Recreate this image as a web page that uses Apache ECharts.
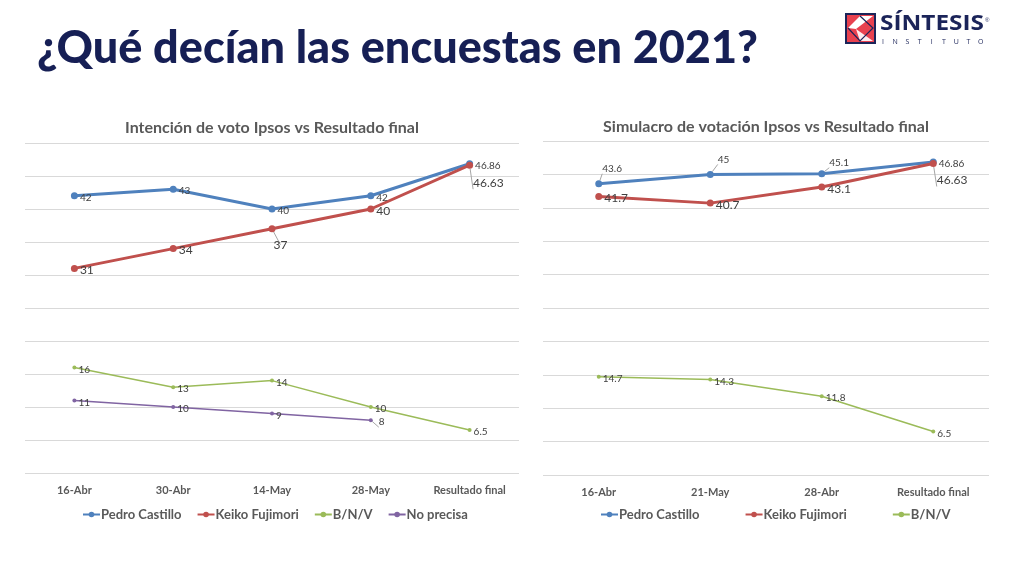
<!DOCTYPE html>
<html>
<head>
<meta charset="utf-8">
<script src="https://cdn.jsdelivr.net/npm/echarts@6/dist/echarts.min.js"></script>
<style>
  html, body { margin: 0; padding: 0; background: #fff; }
  #chart { width: 1024px; height: 569px; }
</style>
</head>
<body>
<div id="chart"></div>
<script>
// datos
const fechasIntencion = ["16-Abr", "30-Abr", "14-May", "28-May", "Resultado final"];
const castilloIntencion = [42, 43, 40, 42, 46.86];
const fujimoriIntencion = [31, 34, 37, 40, 46.63];
const bnvIntencion = [16, 13, 14, 10, 6.5];
const noPrecisa = [11, 10, 9, 8, null];

const fechasSimulacro = ["16-Abr", "21-May", "28-Abr", "Resultado final"];
const castilloSimulacro = [43.6, 45, 45.1, 46.86];
const fujimoriSimulacro = [41.7, 40.7, 43.1, 46.63];
const bnvSimulacro = [14.7, 14.3, 11.8, 6.5];

const AZUL = "#4F81BD";
const ROJO = "#C0504D";
const VERDE = "#9BBB59";
const MORADO = "#8064A2";
const GRIS = "#595959";
const NAVY = "#1B2459";
const FUENTE = "Lato, 'Open Sans', sans-serif";

const chart = echarts.init(document.getElementById("chart"));

// etiquetas con linea guia: { indice: [dx, dy] }
function conGuia(valores, movidas) {
  return valores.map((v, i) => {
    if (!movidas[i]) return v;
    return { value: v, label: { position: "right", offset: movidas[i] }, labelLine: { show: true } };
  });
}

function serie(nombre, datos, color, grueso, idx, fontSize) {
  return {
    name: nombre,
    type: "line",
    xAxisIndex: idx,
    yAxisIndex: idx,
    data: datos,
    color: color,
    symbol: "circle",
    symbolSize: grueso ? 7 : 4,
    lineStyle: { width: grueso ? 3 : 1.5, color: color },
    itemStyle: { color: color },
    connectNulls: false,
    label: {
      show: true,
      position: "right",
      distance: 2,
      offset: [0, 2],
      color: "#404040",
      fontFamily: FUENTE,
      fontSize: fontSize || 10
    },
    labelLine: { show: false, lineStyle: { color: "#A6A6A6", width: 1 } },
    emphasis: { disabled: true },
    animation: false
  };
}

const ejeX = (cats, gi) => ({
  type: "category",
  gridIndex: gi,
  data: cats,
  boundaryGap: true,
  axisLine: { show: false },
  axisTick: { show: false },
  axisLabel: { color: GRIS, fontFamily: FUENTE, fontWeight: "bold", fontSize: 11, margin: 12 }
});

const ejeY = (gi) => ({
  type: "value",
  gridIndex: gi,
  min: 0,
  max: 50,
  interval: 5,
  axisLabel: { show: false },
  axisLine: { show: false },
  axisTick: { show: false },
  splitLine: { lineStyle: { color: "#D9D9D9", width: 1 } }
});

const textoLeyenda = { color: GRIS, fontFamily: FUENTE, fontWeight: "bold", fontSize: 13, padding: [0, 0, 0, -4] };

// letras del logo, separadas a mano
const letrasInstituto = "INSTITUTO".split("").map((c, i) => ({
  type: "text", x: 37 + i * 12.2, y: 24,
  style: { text: c, fill: NAVY, font: "7px 'Open Sans', sans-serif", align: "center" }
}));

chart.setOption({
  backgroundColor: "#fff",
  title: [
    {
      text: "¿Qué decían las encuestas en 2021?",
      left: 32, top: 21,
      textStyle: { color: "#161F55", fontFamily: FUENTE, fontWeight: 900, fontSize: 45 }
    },
    {
      text: "Intención de voto Ipsos vs Resultado final",
      left: 267, top: 115, textAlign: "center",
      textStyle: { color: GRIS, fontFamily: FUENTE, fontWeight: "bold", fontSize: 16 }
    },
    {
      text: "Simulacro de votación Ipsos vs Resultado final",
      left: 761, top: 114, textAlign: "center",
      textStyle: { color: GRIS, fontFamily: FUENTE, fontWeight: "bold", fontSize: 16 }
    }
  ],
  legend: [
    {
      left: 77, top: 503, itemWidth: 17, itemHeight: 7, itemGap: 15,
      data: ["Pedro Castillo", "Keiko Fujimori", "B/N/V", "No precisa"],
      textStyle: textoLeyenda,
      selectedMode: false
    },
    {
      left: 595, top: 503, itemWidth: 17, itemHeight: 7, itemGap: 45,
      data: ["Pedro Castillo", "Keiko Fujimori", "B/N/V"],
      textStyle: textoLeyenda,
      selectedMode: false
    }
  ],
  grid: [
    { left: 25, top: 143, width: 494, height: 330 },
    { left: 543, top: 141, width: 446, height: 334 }
  ],
  xAxis: [ejeX(fechasIntencion, 0), ejeX(fechasSimulacro, 1)],
  yAxis: [ejeY(0), ejeY(1)],
  series: [
    serie("Pedro Castillo", castilloIntencion, AZUL, true, 0),
    serie("Keiko Fujimori", conGuia(fujimoriIntencion, { 2: [-4, 16], 4: [-2, 18] }), ROJO, true, 0, 12),
    serie("B/N/V", bnvIntencion, VERDE, false, 0),
    serie("No precisa", conGuia(noPrecisa, { 3: [4, 2] }), MORADO, false, 0),
    serie("Pedro Castillo", conGuia(castilloSimulacro, { 0: [-2, -15], 1: [2, -15], 2: [2, -11] }), AZUL, true, 1),
    serie("Keiko Fujimori", conGuia(fujimoriSimulacro, { 3: [-2, 17] }), ROJO, true, 1, 12),
    serie("B/N/V", bnvSimulacro, VERDE, false, 1)
  ],
  graphic: [
    {
      type: "group",
      left: 845, top: 13,
      children: [
        { type: "rect", shape: { x: 0, y: 0, width: 29, height: 29 }, style: { fill: "#E8414F", stroke: NAVY, lineWidth: 2 } },
        { type: "polygon", shape: { points: [[2, 14], [14, 2], [27, 2], [10, 15]] }, style: { fill: "#fff" } },
        { type: "polygon", shape: { points: [[10, 15], [27, 27], [14, 27]] }, style: { fill: "#fff", opacity: 0.9 } },
        { type: "polyline", shape: { points: [[2, 14], [14, 27], [27, 14], [14, 2]] }, style: { stroke: NAVY, lineWidth: 1.2, fill: null } },
        { type: "text", x: 34, y: 0, scaleX: 1.16, style: { text: "SÍNTESIS", fill: NAVY, font: "bold 21px 'Open Sans', sans-serif" } },
        { type: "text", x: 139, y: 3, style: { text: "®", fill: NAVY, font: "6px sans-serif" } }
      ].concat(letrasInstituto)
    }
  ]
});
</script>
</body>
</html>
